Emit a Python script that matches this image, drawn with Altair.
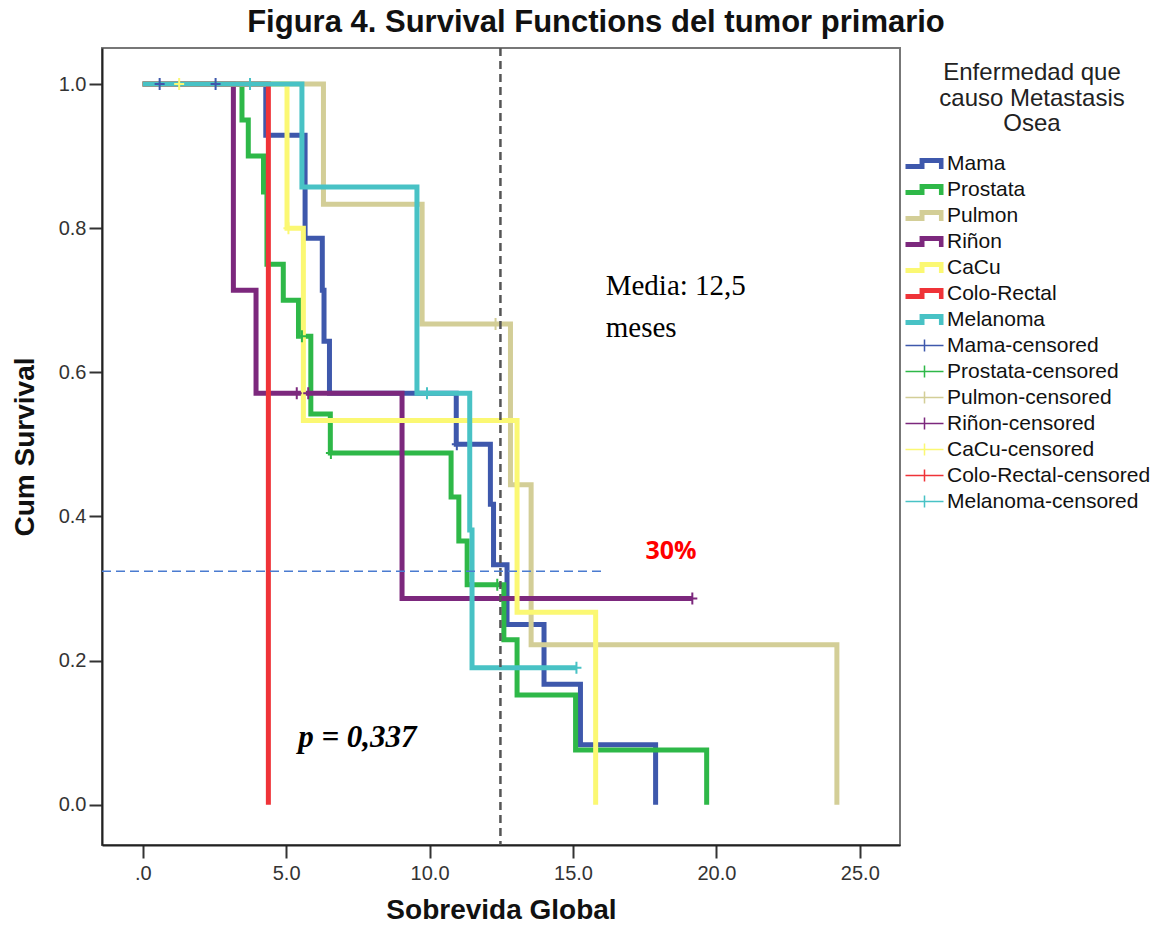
import altair as alt
import pandas as pd

# ---------------- data ----------------
groups = ["Mama", "Prostata", "Pulmon", "Riñon", "CaCu", "Colo-Rectal", "Melanoma"]
colors = ["#3E58AC", "#2EB848", "#D3CE97", "#7C287D", "#FBF873", "#EF3338", "#48C2C5"]

mama_t = [0, 4.29, 5.66, 6.26, 6.32, 6.51, 10.93, 12.12, 12.23, 12.70, 13.99, 15.26, 17.88]
mama_s = [1, 0.929, 0.786, 0.714, 0.643, 0.571, 0.500, 0.417, 0.333, 0.250, 0.167, 0.083, 0]

prostata_t = [0, 3.46, 3.68, 4.21, 4.33, 4.90, 5.43, 5.86, 6.54, 10.75, 11.02, 11.31, 12.59, 13.05, 15.09, 19.66]
prostata_s = [1, 0.95, 0.90, 0.85, 0.75, 0.70, 0.65, 0.542, 0.488, 0.427, 0.366, 0.305, 0.229, 0.152, 0.076, 0]

pulmon_t = [0, 6.30, 9.74, 12.82, 13.54, 24.20]
pulmon_s = [1, 0.833, 0.667, 0.444, 0.222, 0]

rinon_t = [0, 3.16, 3.95, 9.04, 19.16]
rinon_s = [1, 0.714, 0.571, 0.286, 0.286]

cacu_t = [0, 5.03, 5.60, 13.05, 15.79]
cacu_s = [1, 0.800, 0.533, 0.267, 0]

colo_t = [0, 4.38]
colo_s = [1, 0]

melanoma_t = [0, 5.55, 9.56, 11.40, 11.48, 15.12]
melanoma_s = [1, 0.857, 0.571, 0.381, 0.190, 0.190]

# censored observations (time, survival)
cens_grp = ["Mama", "Mama", "Mama", "Prostata", "Prostata", "Prostata", "Pulmon",
            "Riñon", "Riñon", "Riñon", "CaCu", "CaCu", "Melanoma", "Melanoma", "Melanoma"]
cens_t = [0.59, 2.54, 10.95, 5.55, 6.56, 12.36, 12.30, 5.37, 5.77, 19.16, 1.27, 5.08, 3.74, 9.91, 15.12]
cens_s = [1, 1, 0.5, 0.65, 0.488, 0.305, 0.667, 0.571, 0.571, 0.286, 1, 0.8, 1, 0.571, 0.19]

legend_names = groups + [g + "-censored" for g in groups]

media_t = [12.47]
ref_t = [-1.42]
ref_t2 = [16.0]
ref_s = [0.324]

# ---------------- tables ----------------
curves = [mama_t, prostata_t, pulmon_t, rinon_t, cacu_t, colo_t, melanoma_t]
survs = [mama_s, prostata_s, pulmon_s, rinon_s, cacu_s, colo_s, melanoma_s]
rows = []
for g, ts, ss in zip(groups, curves, survs):
    for i, (t, s) in enumerate(zip(ts, ss)):
        rows.append({"grp": g, "t": t, "s": s, "i": i})
df = pd.DataFrame(rows)
cens = pd.DataFrame({"grp": cens_grp, "t": cens_t, "s": cens_s})
leg_df = pd.DataFrame({"leg": legend_names, "t": [0] * 14, "s": [1] * 14})

# ---------------- encodings ----------------
xs = alt.Scale(domain=[-1.42, 26.4], nice=False, zero=False)
ys = alt.Scale(domain=[-0.056, 1.05], nice=False, zero=False)
x_axis = alt.Axis(values=[0, 5, 10, 15, 20, 25], grid=False, title="Sobrevida Global",
                  labelExpr="datum.value == 0 ? '.0' : format(datum.value, '.1f')",
                  labelPadding=5, titleY=73, titleBaseline="alphabetic")
y_axis = alt.Axis(values=[0, 0.2, 0.4, 0.6, 0.8, 1.0], format=".1f", grid=False,
                  title="Cum Survival", labelPadding=3, titleX=-77, titleY=398.5,
                  titleAngle=270, titleAlign="center", titleBaseline="middle")
X = alt.X("t:Q", scale=xs, axis=x_axis)
Y = alt.Y("s:Q", scale=ys, axis=y_axis)

layers = []
for g, c in zip(groups, colors):
    layers.append(
        alt.Chart(df).transform_filter(alt.datum.grp == g)
        .mark_line(interpolate="step-after", color=c, strokeWidth=5, strokeJoin="miter", strokeCap="butt")
        .encode(x=X, y=Y, order="i:Q")
    )

plus_path = "M-1,0L1,0M0,-1.2L0,1.2"
cens_layer = alt.Chart(cens).mark_point(shape=plus_path, filled=False, size=100, strokeWidth=2, opacity=1).encode(
    x=X, y=Y,
    color=alt.Color("grp:N", scale=alt.Scale(domain=groups, range=colors), legend=None),
)

vline = alt.Chart(pd.DataFrame({"t": media_t})).mark_rule(
    color="#555555", strokeWidth=2.5, strokeDash=[8, 5]).encode(x=X)
hline = alt.Chart(pd.DataFrame({"t": ref_t, "t2": ref_t2, "s": ref_s})).mark_rule(
    color="#4A7BD0", strokeWidth=1.5, strokeDash=[9, 5]).encode(x=X, x2="t2:Q", y=Y)

media = alt.Chart(pd.DataFrame({"txt": ["Media: 12,5", "meses"], "t": [16.14, 16.14], "s": [0.707, 0.649]})).mark_text(
    font="Liberation Serif", fontSize=29, align="left", baseline="alphabetic", color="#000000"
).encode(x=X, y=Y, text="txt:N")
pct = alt.Chart(pd.DataFrame({"txt": ["30%"], "t": [18.42], "s": [0.352]})).mark_text(
    font="Open Sans", fontSize=25, fontWeight="bold", align="center", baseline="middle", color="#FF0000"
).encode(x=X, y=Y, text="txt:N")
pval = alt.Chart(pd.DataFrame({"txt": ["p = 0,337"], "t": [5.42], "s": [0.08]})).mark_text(
    font="Liberation Serif", fontSize=31, fontWeight="bold", fontStyle="italic", align="left",
    baseline="alphabetic", color="#000000"
).encode(x=X, y=Y, text="txt:N")

# legend symbols: unit = 9.5 px (symbolSize 361), shapes span 38 px
step_path = ("M-2,0.06L0,0.06L0,0.58L-2,0.58Z "
             "M-0.52,-0.58L0,-0.58L0,0.58L-0.52,0.58Z "
             "M-0.52,-0.58L2,-0.58L2,-0.06L-0.52,-0.06Z "
             "M1.52,-0.58L2,-0.58L2,0.58L1.52,0.58Z")
cross_path = ("M-2,-0.08L2,-0.08L2,0.08L-2,0.08Z "
              "M-0.08,-0.64L0.08,-0.64L0.08,0.64L-0.08,0.64Z")
leg = alt.Legend(title=["Enfermedad que", "causo Metastasis", "Osea"], orient="none",
                 legendX=812, legendY=13)
legend_layer = alt.Chart(leg_df).mark_point(filled=True, opacity=0).encode(
    x=X, y=Y,
    fill=alt.Fill("leg:N", scale=alt.Scale(domain=legend_names, range=colors + colors), legend=leg),
    shape=alt.Shape("leg:N", scale=alt.Scale(domain=legend_names, range=[step_path] * 7 + [cross_path] * 7), legend=leg),
)

chart = alt.layer(*layers, cens_layer, vline, hline, media, pct, pval, legend_layer).properties(
    width=798, height=797,
    title=alt.TitleParams("Figura 4. Survival Functions del tumor primario", fontSize=31,
                          font="Liberation Sans", fontWeight="bold", anchor="middle", dx=95, dy=31,
                          offset=15, baseline="alphabetic", frame="group", color="#111111"),
    autosize=alt.AutoSizeParams(type="none"),
    padding={"left": 102, "top": 48, "right": 258, "bottom": 85},
).configure_view(stroke="#777777", strokeWidth=2).configure_axis(
    domainColor="#222222", domainWidth=2, tickColor="#333333", tickWidth=2, tickSize=13,
    labelFont="Liberation Sans", labelFontSize=20, labelColor="#333333",
    titleFont="Liberation Sans", titleFontSize=28, titleFontWeight="bold", titleColor="#111111",
).configure_legend(
    titleFont="Liberation Sans", titleFontSize=24, titleFontWeight="normal", titleColor="#222222",
    titleAlign="center", titleAnchor="middle", titleLineHeight=25.5, titlePadding=17, titleLimit=400,
    labelFont="Liberation Sans", labelFontSize=21, labelColor="#111111", labelLimit=400, labelOffset=12,
    symbolSize=361, symbolStrokeWidth=0, symbolOpacity=1, rowPadding=4, padding=0,
)

chart.save("out.html", embed_options={"renderer": "svg", "actions": False})
